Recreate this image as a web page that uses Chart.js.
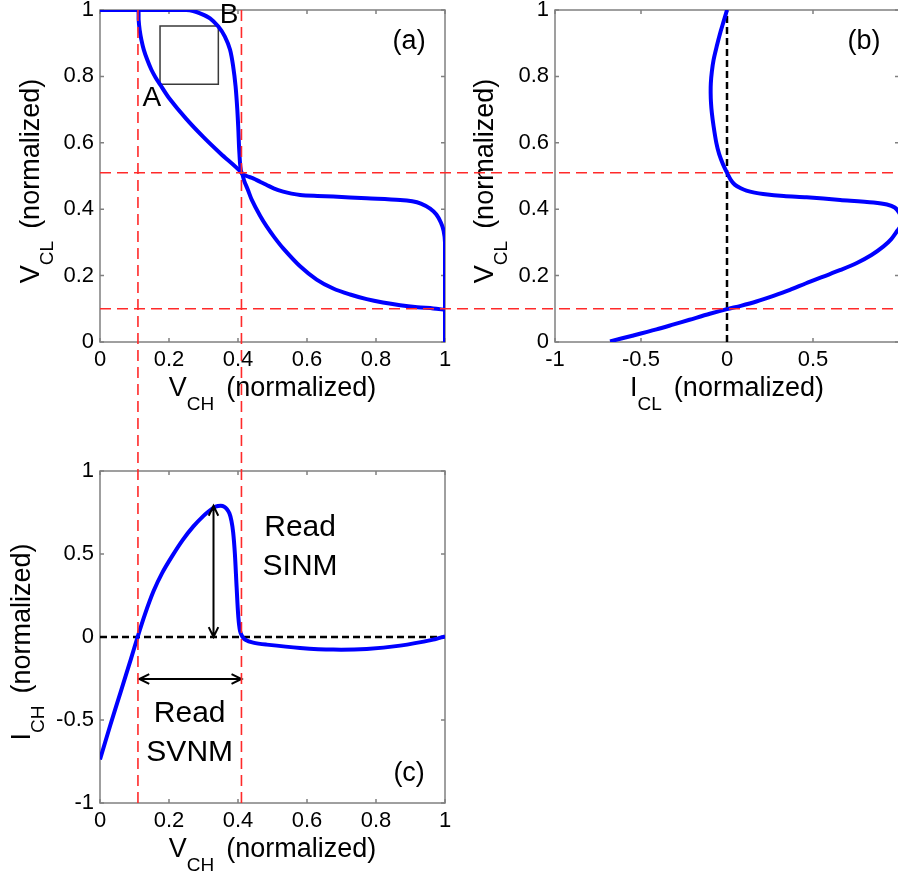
<!DOCTYPE html>
<html>
<head>
<meta charset="utf-8">
<script src="https://cdn.jsdelivr.net/npm/chart.js@4.4.1/dist/chart.umd.min.js"></script>
<style>
html, body { margin: 0; padding: 0; background: #fff; overflow: hidden; width: 898px; height: 873px; }
canvas { position: absolute; left: -50px; top: -50px; }
</style>
</head>
<body>
<canvas id="chartA" width="1010" height="973"></canvas>
<canvas id="chartB" width="1010" height="973"></canvas>
<canvas id="chartC" width="1010" height="973"></canvas>
<canvas id="overlay" width="1010" height="973"></canvas>
<script>
// (a) butterfly curves, V_CL against V_CH
var vchA1 = [0, 0.09, 0.105, 0.111, 0.112, 0.115, 0.12, 0.127, 0.137, 0.149, 0.161, 0.174, 0.2, 0.25, 0.3, 0.35, 0.41, 0.418, 0.428, 0.44, 0.464, 0.483, 0.505, 0.531, 0.58, 0.628, 0.676, 0.725, 0.773, 0.82, 0.87, 0.92, 0.966, 1.0];
var vclA1 = [1, 1, 1, 1, 0.97, 0.94, 0.91, 0.88, 0.85, 0.82, 0.797, 0.776, 0.735, 0.672, 0.617, 0.567, 0.51, 0.485, 0.46, 0.428, 0.38, 0.348, 0.316, 0.282, 0.228, 0.188, 0.161, 0.143, 0.129, 0.119, 0.111, 0.105, 0.101, 0.097];
var vchA2 = [0, 0.22, 0.25, 0.27, 0.29, 0.319, 0.343, 0.362, 0.377, 0.386, 0.393, 0.398, 0.401, 0.404, 0.41, 0.425, 0.444, 0.465, 0.483, 0.505, 0.531, 0.555, 0.58, 0.63, 0.676, 0.773, 0.87, 0.905, 0.93, 0.957, 0.975, 0.988, 0.996, 1.0, 1.0];
var vclA2 = [1, 1, 1, 0.997, 0.99, 0.975, 0.95, 0.92, 0.88, 0.83, 0.77, 0.70, 0.64, 0.57, 0.51, 0.5, 0.493, 0.482, 0.473, 0.462, 0.453, 0.447, 0.443, 0.44, 0.438, 0.433, 0.428, 0.424, 0.417, 0.402, 0.384, 0.36, 0.335, 0.30, 0];
// square fitted between the two curves
var sqX = [0.174, 0.343, 0.343, 0.174, 0.174];
var sqY = [0.776, 0.776, 0.952, 0.952, 0.776];

// (b) I_CL against V_CL
var iclB = [0, -0.02, -0.04, -0.06, -0.078, -0.088, -0.094, -0.095, -0.093, -0.088, -0.078, -0.062, -0.045, -0.023, 0, 0.02, 0.045, 0.08, 0.113, 0.16, 0.21, 0.33, 0.463, 0.658, 0.852, 0.93, 0.975, 1.0, 1.015, 1.01, 0.99, 0.955, 0.91, 0.84, 0.755, 0.66, 0.56, 0.46, 0.366, 0.27, 0.171, 0.08, 0, -0.1, -0.218, -0.31, -0.41, -0.55, -0.68];
var vclB = [1, 0.965, 0.93, 0.89, 0.85, 0.815, 0.78, 0.75, 0.72, 0.69, 0.65, 0.6, 0.565, 0.535, 0.51, 0.49, 0.474, 0.463, 0.456, 0.45, 0.446, 0.44, 0.436, 0.428, 0.42, 0.414, 0.405, 0.39, 0.37, 0.35, 0.335, 0.31, 0.288, 0.262, 0.238, 0.217, 0.197, 0.177, 0.157, 0.139, 0.122, 0.109, 0.099, 0.085, 0.067, 0.053, 0.038, 0.019, 0.002];

// (c) I_CH against V_CH
var vchC = [0, 0.03, 0.06, 0.09, 0.109, 0.13, 0.155, 0.18, 0.21, 0.24, 0.27, 0.3, 0.32, 0.335, 0.35, 0.36, 0.368, 0.375, 0.381, 0.386, 0.391, 0.396, 0.401, 0.406, 0.412, 0.42, 0.444, 0.483, 0.58, 0.676, 0.773, 0.87, 0.966, 1.0];
var ichC = [-0.738, -0.53, -0.33, -0.13, 0, 0.135, 0.275, 0.385, 0.49, 0.585, 0.665, 0.73, 0.765, 0.785, 0.79, 0.785, 0.77, 0.745, 0.70, 0.63, 0.5, 0.3, 0.12, 0.035, 0.005, -0.015, -0.034, -0.046, -0.066, -0.076, -0.072, -0.052, -0.016, 0.004];

// read margins
var marginV = [0.11, 0.41];   // red dashed, V_CH
var marginH = [0.51, 0.10];   // red dashed, V_CL
var sinmX = [0.329, 0.329], sinmY = [0.79, 0];
var svnmX = [0.114, 0.41], svnmY = [-0.253, -0.253];

// ticks
var ticks01 = [0, 0.2, 0.4, 0.6, 0.8, 1];
var ticks01Labels = ['0', '0.2', '0.4', '0.6', '0.8', '1'];
var ticksI = [-1, -0.5, 0, 0.5, 1];
var ticksILabels = ['-1', '-0.5', '0', '0.5', '1'];
var ticksBLabels = ['-1', '-0.5', '0', '0.5', ''];

var FONT = '"Liberation Sans", Arial, Helvetica, sans-serif';
var GRAY = '#808080';
var BLUE = '#0000ff';
var RED = '#ff2a2a';

function pts(xs, ys) {
    return xs.map(function (x, i) { return { x: x, y: ys[i] }; });
}

function axis(min, max, values, labels, isX) {
    return {
        type: 'linear',
        min: min,
        max: max,
        grid: { display: false, drawTicks: false },
        border: { display: false },
        ticks: {
            color: '#000',
            font: { family: FONT, size: 22 },
            padding: isX ? 5 : 6,
            maxRotation: 0,
            autoSkip: false,
            callback: function (v, i) { return labels[i]; }
        },
        afterBuildTicks: function (s) {
            s.ticks = values.map(function (v) { return { value: v }; });
        },
        afterFit: function (s) {
            if (isX) s.height = 80; else s.width = 100;
        }
    };
}

function curve(xs, ys) {
    return { data: pts(xs, ys), borderColor: BLUE, borderWidth: 4, tension: 0.3, pointRadius: 0 };
}

function dashed(xs, ys) {
    return { data: pts(xs, ys), borderColor: '#000', borderWidth: 2.5, borderDash: [7, 4], pointRadius: 0 };
}

// box with inward tick marks, drawn under the data like MATLAB
var framePlugin = {
    id: 'frame',
    beforeDatasetsDraw: function (chart) {
        var a = chart.chartArea, ctx = chart.ctx, sx = chart.scales.x, sy = chart.scales.y;
        ctx.save();
        ctx.strokeStyle = GRAY;
        ctx.lineWidth = 1.5;
        ctx.strokeRect(a.left, a.top, a.right - a.left, a.bottom - a.top);
        ctx.beginPath();
        sx.ticks.forEach(function (t) {
            var px = sx.getPixelForValue(t.value);
            ctx.moveTo(px, a.bottom); ctx.lineTo(px, a.bottom - 4);
            ctx.moveTo(px, a.top); ctx.lineTo(px, a.top + 4);
        });
        sy.ticks.forEach(function (t) {
            var py = sy.getPixelForValue(t.value);
            ctx.moveTo(a.left, py); ctx.lineTo(a.left + 4, py);
            ctx.moveTo(a.right, py); ctx.lineTo(a.right - 4, py);
        });
        ctx.stroke();
        ctx.restore();
    }
};

function drawRich(ctx, parts, cx, cy, rot) {
    ctx.save();
    ctx.translate(cx, cy);
    ctx.rotate(rot);
    ctx.fillStyle = '#000';
    ctx.textAlign = 'left';
    ctx.textBaseline = 'alphabetic';
    var w = 0;
    parts.forEach(function (p) {
        ctx.font = p.size + 'px ' + FONT;
        p.w = ctx.measureText(p.t).width + (p.gap || 0);
        w += p.w;
    });
    var x = -w / 2;
    parts.forEach(function (p) {
        ctx.font = p.size + 'px ' + FONT;
        ctx.fillText(p.t, x + (p.gap || 0), p.dy || 0);
        x += p.w;
    });
    ctx.restore();
}

function title(main, sub) {
    return [{ t: main, size: 27 }, { t: sub, size: 19, dy: 14 }, { t: '(normalized)', size: 27, gap: 12 }];
}

function arrowHead(ctx, x, y, ang) {
    ctx.moveTo(x + 11 * Math.cos(ang + 0.45), y + 11 * Math.sin(ang + 0.45));
    ctx.lineTo(x, y);
    ctx.lineTo(x + 11 * Math.cos(ang - 0.45), y + 11 * Math.sin(ang - 0.45));
}

function notes(cfg) {
    return {
        id: 'notes',
        afterDraw: function (chart) {
            var ctx = chart.ctx, a = chart.chartArea, sx = chart.scales.x, sy = chart.scales.y;
            drawRich(ctx, cfg.xTitle, (a.left + a.right) / 2, a.bottom + 54, 0);
            drawRich(ctx, cfg.yTitle, a.left - cfg.yOff, (a.top + a.bottom) / 2 + 5, -Math.PI / 2);
            ctx.save();
            ctx.fillStyle = '#000';
            ctx.textBaseline = 'alphabetic';
            ctx.textAlign = 'center';
            (cfg.texts || []).forEach(function (t) {
                ctx.font = t.size + 'px ' + FONT;
                ctx.fillText(t.text, sx.getPixelForValue(t.x), sy.getPixelForValue(t.y));
            });
            ctx.strokeStyle = '#000';
            ctx.lineWidth = 2;
            ctx.setLineDash([]);
            (cfg.arrows || []).forEach(function (ar) {
                var x1 = sx.getPixelForValue(ar[0][0]), x2 = sx.getPixelForValue(ar[0][1]);
                var y1 = sy.getPixelForValue(ar[1][0]), y2 = sy.getPixelForValue(ar[1][1]);
                var ang = Math.atan2(y2 - y1, x2 - x1);
                ctx.beginPath();
                ctx.moveTo(x1, y1); ctx.lineTo(x2, y2);
                arrowHead(ctx, x1, y1, ang);
                arrowHead(ctx, x2, y2, ang + Math.PI);
                ctx.stroke();
            });
            ctx.restore();
        }
    };
}

function baseOptions(x, y, pad) {
    return {
        responsive: false,
        animation: false,
        events: [],
        layout: { padding: pad },
        scales: { x: x, y: y },
        plugins: { legend: { display: false }, tooltip: { enabled: false } },
        elements: { point: { radius: 0 } }
    };
}

var chartA = new Chart(document.getElementById('chartA'), {
    type: 'scatter',
    data: {
        datasets: [
            curve(vchA1, vclA1),
            curve(vchA2, vclA2),
            { data: pts(sqX, sqY), borderColor: '#3a3a3a', borderWidth: 1.5, tension: 0, pointRadius: 0 }
        ].map(function (d) { d.showLine = true; return d; })
    },
    options: baseOptions(axis(0, 1, ticks01, ticks01Labels, true), axis(0, 1, ticks01, ticks01Labels, false),
        { left: 50, right: 515, top: 60, bottom: 501 }),
    plugins: [framePlugin, notes({
        xTitle: title('V', 'CH'),
        yTitle: title('V', 'CL'),
        yOff: 61,
        texts: [
            { text: 'A', x: 0.15, y: 0.711, size: 28 },
            { text: 'B', x: 0.374, y: 0.96, size: 28 },
            { text: '(a)', x: 0.896, y: 0.882, size: 27 }
        ]
    })]
});

var chartB = new Chart(document.getElementById('chartB'), {
    type: 'scatter',
    data: {
        datasets: [
            curve(iclB, vclB),
            dashed([0, 0], [0, 1])
        ].map(function (d) { d.showLine = true; return d; })
    },
    options: baseOptions(axis(-1, 1, ticksI, ticksBLabels, true), axis(0, 1, ticks01, ticks01Labels, false),
        { left: 505, right: 61, top: 60, bottom: 501 }),
    plugins: [framePlugin, notes({
        xTitle: title('I', 'CL'),
        yTitle: title('V', 'CL'),
        yOff: 62,
        texts: [{ text: '(b)', x: 0.797, y: 0.882, size: 27 }]
    })]
});

var chartC = new Chart(document.getElementById('chartC'), {
    type: 'scatter',
    data: {
        datasets: [
            curve(vchC, ichC),
            dashed([0, 1], [0, 0])
        ].map(function (d) { d.showLine = true; return d; })
    },
    options: baseOptions(axis(0, 1, ticks01, ticks01Labels, true), axis(-1, 1, ticksI, ticksILabels, false),
        { left: 50, right: 515, top: 521, bottom: 40 }),
    plugins: [framePlugin, notes({
        xTitle: title('V', 'CH'),
        yTitle: title('I', 'CH'),
        yOff: 70,
        texts: [
            { text: 'Read', x: 0.58, y: 0.61, size: 30 },
            { text: 'SINM', x: 0.58, y: 0.375, size: 30 },
            { text: 'Read', x: 0.26, y: -0.51, size: 30 },
            { text: 'SVNM', x: 0.26, y: -0.745, size: 30 },
            { text: '(c)', x: 0.896, y: -0.866, size: 27 }
        ],
        arrows: [[sinmX, sinmY], [svnmX, svnmY]]
    })]
});

// red dashed margin lines run across the panels
(function () {
    var ctx = document.getElementById('overlay').getContext('2d');
    var xa = chartA.scales.x, ya = chartA.scales.y, yc = chartC.scales.y;
    ctx.save();
    ctx.strokeStyle = RED;
    ctx.lineWidth = 1.6;
    ctx.setLineDash([11, 6]);
    marginV.forEach(function (v) {
        var px = xa.getPixelForValue(v);
        ctx.beginPath();
        ctx.moveTo(px, ya.getPixelForValue(1));
        ctx.lineTo(px, yc.getPixelForValue(-1));
        ctx.stroke();
    });
    marginH.forEach(function (v) {
        var py = ya.getPixelForValue(v);
        ctx.beginPath();
        ctx.moveTo(xa.getPixelForValue(0), py);
        ctx.lineTo(ctx.canvas.width, py);
        ctx.stroke();
    });
    ctx.restore();
})();
</script>
</body>
</html>
